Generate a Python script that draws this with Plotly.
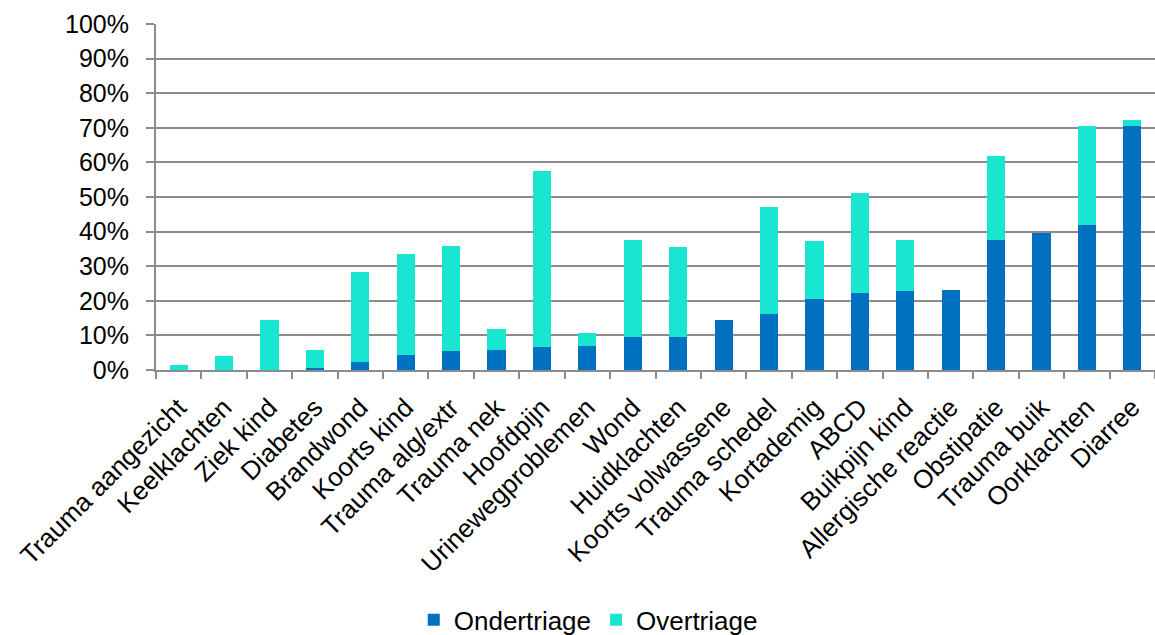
import plotly.graph_objects as go

categories = ["Trauma aangezicht", "Keelklachten", "Ziek kind", "Diabetes", "Brandwond",
              "Koorts kind", "Trauma alg/extr", "Trauma nek", "Hoofdpijn", "Urinewegproblemen",
              "Wond", "Huidklachten", "Koorts volwassene", "Trauma schedel", "Kortademig",
              "ABCD", "Buikpijn kind", "Allergische reactie", "Obstipatie", "Trauma buik",
              "Oorklachten", "Diarree"]

ondertriage = [0.0, 0.0, 0.0, 0.7, 2.3, 4.2, 5.6, 5.8, 6.6, 7.0, 9.6, 9.6, 14.5, 16.2,
               20.6, 22.4, 22.7, 23.0, 37.6, 39.5, 41.9, 70.4]
overtriage = [1.5, 4.0, 14.5, 5.2, 26.1, 29.2, 30.3, 6.0, 51.0, 3.6, 28.1, 26.0, 0.0, 31.0,
              16.7, 28.8, 14.8, 0.0, 24.2, 0.0, 28.7, 1.9]

y_ticks = [i / 10 for i in range(11)]

FONT = "Liberation Sans, Arial, sans-serif"
GRID = "#8c8c8c"

fig = go.Figure()
fig.add_trace(go.Bar(x=categories, y=[v / 100 for v in ondertriage], name="Ondertriage",
                     marker=dict(color="#0070C0", line=dict(width=0))))
fig.add_trace(go.Bar(x=categories, y=[v / 100 for v in overtriage], name="Overtriage",
                     marker=dict(color="#18E6D0", line=dict(width=0))))

fig.update_layout(
    barmode="stack",
    bargap=0.6,
    width=1155, height=635,
    margin=dict(l=156, r=0, t=24, b=265),
    paper_bgcolor="white", plot_bgcolor="white",
    font=dict(family=FONT, size=25, color="black"),
    showlegend=True,
    legend=dict(orientation="h", x=0.258, xanchor="left", xref="paper",
                y=0.024, yanchor="middle", yref="container",
                font=dict(size=26), itemwidth=30, tracegroupgap=0,
                traceorder="normal"),
)
fig.update_xaxes(
    automargin=False,
    tickangle=-45, showline=True, linecolor=GRID, linewidth=2,
    ticks="outside", tickson="boundaries", ticklen=7, tickcolor=GRID, tickwidth=2,
    showgrid=False, tickfont=dict(size=26), ticklabelstandoff=10,
)
fig.update_yaxes(
    automargin=False,
    range=[0, 1], tickvals=y_ticks, tickformat=".0%",
    showline=True, linecolor=GRID, linewidth=2,
    ticks="outside", ticklen=8, tickcolor=GRID, tickwidth=2,
    showgrid=True, gridcolor=GRID, gridwidth=2, zeroline=False,
    tickfont=dict(size=25), ticklabelstandoff=12,
)

fig.write_html("out.html")
